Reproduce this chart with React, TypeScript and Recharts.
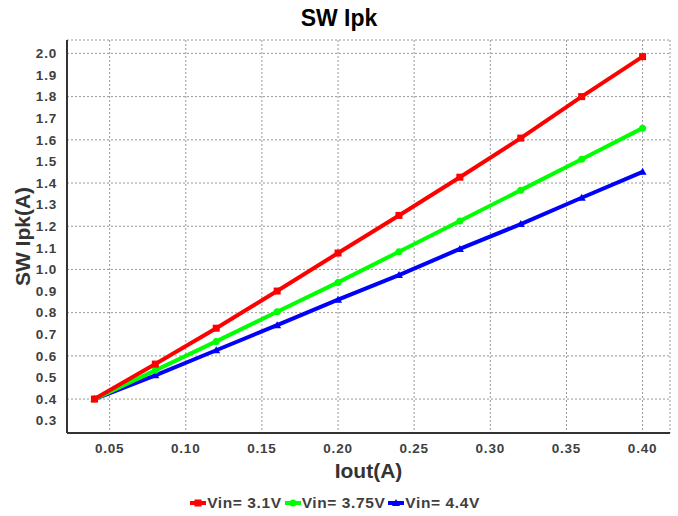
import {
  LineChart,
  Line,
  XAxis,
  YAxis,
  CartesianGrid,
  Legend,
  Label,
  Customized,
} from "recharts";

const iout = [0.04, 0.08, 0.12, 0.16, 0.2, 0.24, 0.28, 0.32, 0.36, 0.4];
const vin31 = [0.4, 0.562, 0.728, 0.9, 1.076, 1.25, 1.427, 1.608, 1.8, 1.985];
const vin375 = [0.4, 0.533, 0.667, 0.804, 0.94, 1.082, 1.224, 1.367, 1.51, 1.654];
const vin44 = [0.4, 0.51, 0.626, 0.742, 0.86, 0.974, 1.095, 1.21, 1.332, 1.452];

const xTicks = [0.05, 0.1, 0.15, 0.2, 0.25, 0.3, 0.35, 0.4];
const yTicks = [0.3, 0.4, 0.5, 0.6, 0.7, 0.8, 0.9, 1.0, 1.1, 1.2, 1.3, 1.4, 1.5, 1.6, 1.7, 1.8, 1.9, 2.0];

const series = [
  { key: "v44", name: "Vin= 4.4V", color: "#0000ff", shape: "triangle" },
  { key: "v375", name: "Vin= 3.75V", color: "#00ff00", shape: "circle" },
  { key: "v31", name: "Vin= 3.1V", color: "#ff0000", shape: "square" },
];
const legendOrder = ["v31", "v375", "v44"];

const data = iout.map((x, i) => ({ x, v31: vin31[i], v375: vin375[i], v44: vin44[i] }));

const FONT = "'Liberation Sans', Arial, sans-serif";
const tickStyle = { fill: "#404040", fontSize: 13.5, fontWeight: 700, fontFamily: FONT, letterSpacing: 0.8 };

function Marker({ cx, cy, shape, color }: any) {
  if (cx == null || cy == null) return null;
  if (shape === "square") return <rect x={cx - 3.5} y={cy - 3.5} width={7} height={7} fill={color} />;
  if (shape === "circle") return <circle cx={cx} cy={cy} r={3.5} fill={color} />;
  return <path d={`M${cx},${cy - 4}L${cx + 4},${cy + 3}L${cx - 4},${cy + 3}Z`} fill={color} />;
}

function Title() {
  return (
    <text x={339} y={26} textAnchor="middle" fontSize={23} fontWeight={700} fontFamily={FONT} fill="#000">
      SW Ipk
    </text>
  );
}

function LegendContent() {
  return (
    <div style={{ height: 26, display: "flex", justifyContent: "center", alignItems: "center", gap: 3 }}>
      {legendOrder.map((k) => {
        const s = series.find((d) => d.key === k)!;
        return (
          <div key={k} style={{ display: "flex", alignItems: "center" }}>
            <svg width={16} height={10}>
              <line x1={0} y1={5} x2={16} y2={5} stroke={s.color} strokeWidth={4} />
              <Marker cx={8} cy={5} shape={s.shape} color={s.color} />
            </svg>
            <span style={{ fontFamily: FONT, fontWeight: 700, fontSize: 15.5, color: "#404040", letterSpacing: 0.6, marginLeft: 1 }}>
              {s.name}
            </span>
          </div>
        );
      })}
    </div>
  );
}

export default function App() {
  return (
    <div style={{ position: "absolute", left: 0, top: 0, width: 678, height: 516, background: "#fff" }}>
      <LineChart width={678} height={516} data={data} margin={{ top: 40, right: 8, left: 0, bottom: 0 }}>
        <CartesianGrid stroke="#999" strokeDasharray="2 2" />
        <XAxis
          dataKey="x"
          type="number"
          domain={[0.022, 0.418]}
          ticks={xTicks}
          tickFormatter={(v: number) => v.toFixed(2)}
          tick={tickStyle}
          tickLine={false}
          tickSize={0}
          tickMargin={10}
          height={57}
          axisLine={{ stroke: "#333", strokeWidth: 2 }}
          allowDataOverflow
        >
          <Label value="Iout(A)" position="insideBottom" offset={12} style={{ fill: "#333", fontSize: 21, fontWeight: 700, fontFamily: FONT }} />
        </XAxis>
        <XAxis xAxisId="top" orientation="top" type="number" domain={[0.022, 0.418]} height={0} tick={false} tickLine={false} axisLine={{ stroke: "#333", strokeWidth: 1.5 }} />
        <YAxis
          type="number"
          domain={[0.243, 2.062]}
          ticks={yTicks}
          tickFormatter={(v: number) => v.toFixed(1)}
          tick={tickStyle}
          tickLine={false}
          tickSize={0}
          tickMargin={10}
          width={67}
          axisLine={{ stroke: "#333", strokeWidth: 2 }}
          allowDataOverflow
        >
          <Label value="SW Ipk(A)" angle={-90} position="insideLeft" offset={23} style={{ fill: "#333", fontSize: 21, fontWeight: 700, fontFamily: FONT, textAnchor: "middle" }} />
        </YAxis>
        <YAxis yAxisId="right" orientation="right" type="number" domain={[0.243, 2.062]} width={0} tick={false} tickLine={false} axisLine={{ stroke: "#333", strokeWidth: 1.5 }} />
        {series.map((s) => (
          <Line
            key={s.key}
            dataKey={s.key}
            name={s.name}
            stroke={s.color}
            strokeWidth={4}
            isAnimationActive={false}
            dot={(p: any) => <Marker key={`${s.key}-${p.index}`} cx={p.cx} cy={p.cy} shape={s.shape} color={s.color} />}
            activeDot={false}
          />
        ))}
        <Legend verticalAlign="bottom" height={26} content={<LegendContent />} />
        <Customized component={<Title />} />
      </LineChart>
    </div>
  );
}
